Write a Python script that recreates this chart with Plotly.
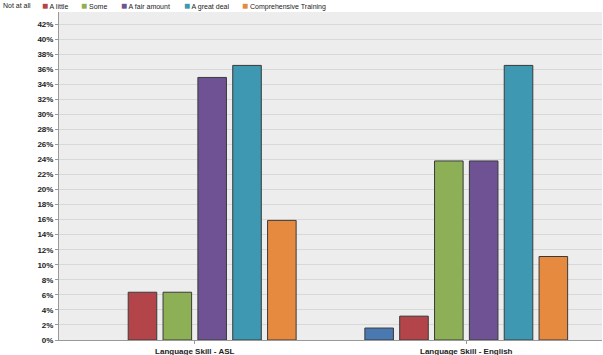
import plotly.graph_objects as go

categories = ["Language Skill - ASL", "Language Skill - English"]
series_names = ["Not at all", "A little", "Some", "A fair amount", "A great deal", "Comprehensive Training"]
not_at_all = [0.0, 0.0159]
a_little = [0.0635, 0.0317]
some = [0.0635, 0.238]
fair_amount = [0.349, 0.238]
great_deal = [0.365, 0.365]
comprehensive = [0.159, 0.111]
colors = ["#4a78b0", "#b2444a", "#8db057", "#6e5294", "#3e98b2", "#e68a40"]

values = [not_at_all, a_little, some, fair_amount, great_deal, comprehensive]

# legend entry left positions in pixels (layout only); first entry's swatch lies off the page
legend_px = [1, 40, 79, 119, 182, 240]
legend_swatch = [False, True, True, True, True, True]

L, R, T, B = 59, 1, 12, 15
W, H = 603, 355
pw = W - L - R

fig = go.Figure()
for name, vals, col in zip(series_names, values, colors):
    fig.add_trace(go.Bar(
        x=categories, y=vals, name=name,
        marker=dict(color=col,
                    line=dict(color="#3a3a3a", width=[1 if v > 0 else 0 for v in vals])),
        showlegend=False,
    ))

for name, col, px, sw in zip(series_names, colors, legend_px, legend_swatch):
    txt = (f'<span style="color:{col};font-size:10px">■</span> {name}') if sw else name
    fig.add_annotation(
        xref="paper", yref="paper",
        x=(px - L) / pw, y=1 + (T - 5) / (H - T - B),
        xanchor="left", yanchor="middle", showarrow=False,
        text=txt,
        font=dict(size=7, color="#222"),
    )

fig.update_layout(
    width=W, height=H,
    margin=dict(l=L, r=R, t=T, b=B, autoexpand=False),
    barmode="group", bargap=0.23, bargroupgap=0.18,
    paper_bgcolor="white", plot_bgcolor="#ededed",
    font=dict(family="Liberation Sans, Arial, sans-serif", size=8, color="#222"),
    showlegend=False,
)
fig.update_xaxes(showline=True, linecolor="#999", ticks="outside", ticklen=3,
                 tickcolor="#999", tickfont=dict(size=8, color="#222", weight="bold"),
                 range=[-0.5, 1.5], automargin=False)
fig.update_yaxes(range=[0, 0.436], dtick=0.02, tickformat=".0%", showline=True,
                 linecolor="#999", ticks="outside", ticklen=3, tickcolor="#999",
                 gridcolor="#d8d8d8", zeroline=False, automargin=False,
                 tickfont=dict(size=8, color="#222", weight="bold"))

fig.write_html("out.html")
